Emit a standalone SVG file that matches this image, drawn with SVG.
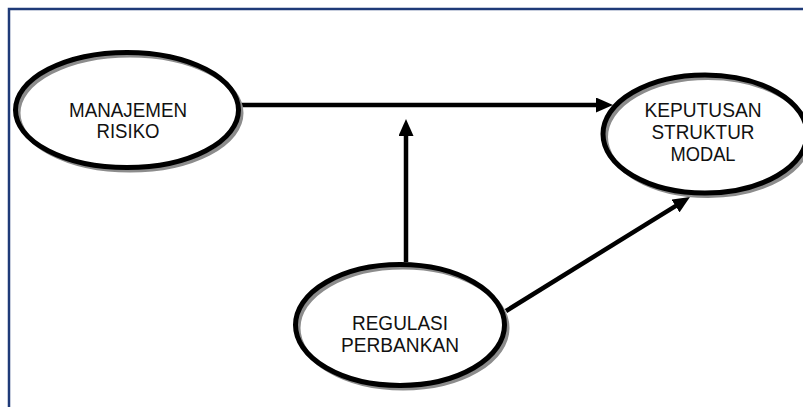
<svg xmlns="http://www.w3.org/2000/svg" width="803" height="407" viewBox="0 0 803 407">
  <style>
    .frame { fill: none; stroke: #1f3a78; stroke-width: 2.5; }
    .shadow { fill: none; stroke: #8c8c8c; stroke-width: 4; }
    .node { fill: none; stroke: #000; stroke-width: 5; }
    .bg { fill: #fff; stroke: none; }
    .label { font-family: "Liberation Sans", Arial, sans-serif; font-size: 20.5px; fill: #111; text-anchor: middle; }
    .conn { stroke: #000; stroke-width: 4.5; fill: none; marker-end: url(#arrow); }
  </style>
  <defs>
    <marker id="arrow" viewBox="0 0 17 15" markerUnits="userSpaceOnUse" markerWidth="17" markerHeight="15" refX="7" refY="7.5" orient="auto">
      <path d="M0,0 L17,7.5 L0,15 z" fill="#000"/>
    </marker>
  </defs>
  <rect x="0" y="0" width="803" height="407" fill="#fff"/>
  <rect class="frame" x="9" y="9" width="820" height="420"/>

  <g id="connectors">
    <line class="conn" x1="241" y1="105" x2="603" y2="105"/>
    <line class="conn" x1="406" y1="262" x2="406" y2="129"/>
    <line class="conn" x1="506" y1="311" x2="681.5" y2="202.3"/>
  </g>

  <g id="node-manajemen-risiko">
    <ellipse class="bg" cx="127" cy="110" rx="111.5" ry="57.5"/>
    <ellipse class="shadow" cx="130" cy="113" rx="111.5" ry="57.5"/>
    <ellipse class="node" cx="127" cy="110" rx="111.5" ry="57.5"/>
    <text class="label" x="128" y="117" textLength="118" lengthAdjust="spacingAndGlyphs">MANAJEMEN</text>
    <text class="label" x="128" y="138" textLength="63" lengthAdjust="spacingAndGlyphs">RISIKO</text>
  </g>

  <g id="node-keputusan-struktur-modal">
    <ellipse class="bg" cx="705" cy="134" rx="102" ry="59"/>
    <ellipse class="shadow" cx="708" cy="137" rx="102" ry="59"/>
    <ellipse class="node" cx="705" cy="134" rx="102" ry="59"/>
    <text class="label" x="703" y="117" textLength="117" lengthAdjust="spacingAndGlyphs">KEPUTUSAN</text>
    <text class="label" x="703" y="139" textLength="103" lengthAdjust="spacingAndGlyphs">STRUKTUR</text>
    <text class="label" x="703" y="161" textLength="65" lengthAdjust="spacingAndGlyphs">MODAL</text>
  </g>

  <g id="node-regulasi-perbankan">
    <ellipse class="bg" cx="400" cy="325" rx="104.5" ry="60.5"/>
    <ellipse class="shadow" cx="403" cy="328" rx="104.5" ry="60.5"/>
    <ellipse class="node" cx="400" cy="325" rx="104.5" ry="60.5"/>
    <text class="label" x="400" y="330" textLength="96" lengthAdjust="spacingAndGlyphs">REGULASI</text>
    <text class="label" x="400" y="352" textLength="118" lengthAdjust="spacingAndGlyphs">PERBANKAN</text>
  </g>
</svg>
